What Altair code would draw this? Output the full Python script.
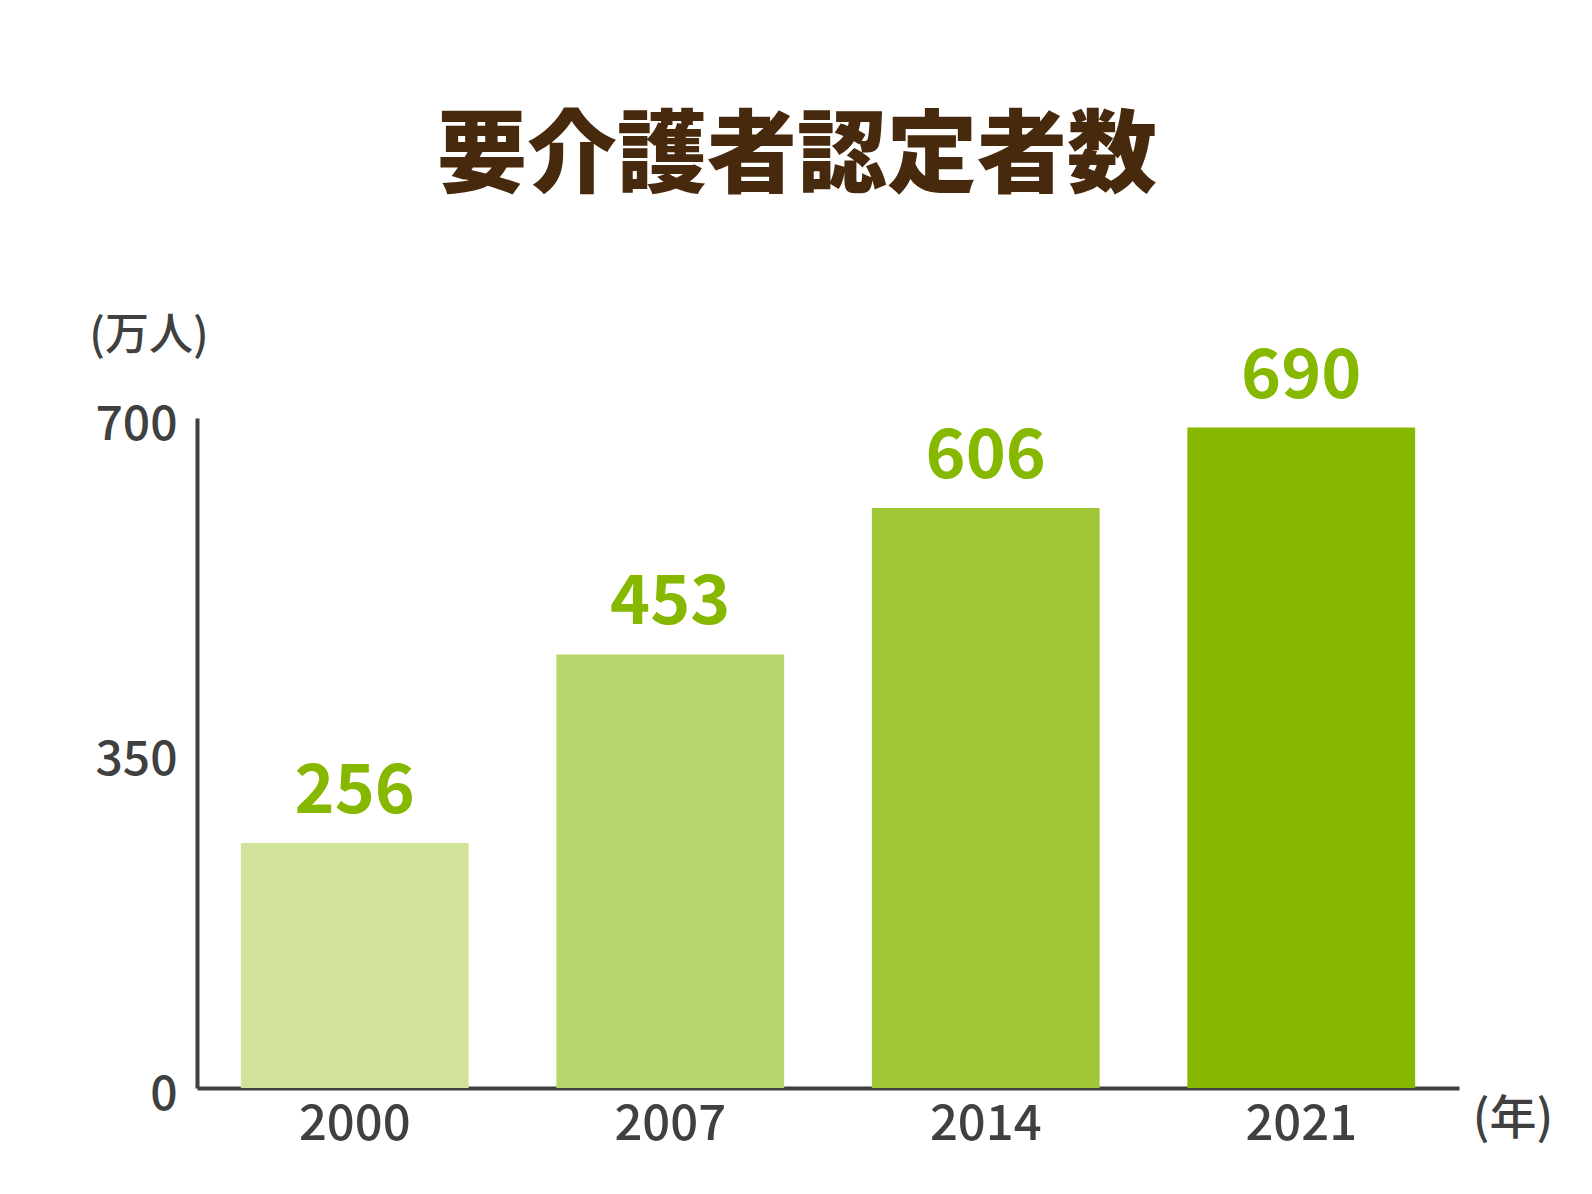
import altair as alt
import pandas as pd

years = ["2000", "2007", "2014", "2021"]
values = [256, 453, 606, 690]
bar_colors = ["#d1e39b", "#b8d66c", "#9ec635", "#86b800"]
y_ticks = [0, 350, 700]
title_text = "要介護者認定者数"
y_unit = "(万人)"
x_unit = "(年)"

FONT = "Noto Sans CJK JP"
W, H = 1262, 670

df = pd.DataFrame({"year": years, "value": values, "color": bar_colors})

x_enc = alt.X(
    "year:N",
    sort=years,
    scale=alt.Scale(paddingInner=0.278, paddingOuter=0.139),
    axis=alt.Axis(
        title=None, labelAngle=0, labelFontSize=49, labelColor="#404040",
        labelFont=FONT, labelFontWeight=500, domainColor="#404040",
        domainWidth=4, ticks=False, labelPadding=12,
    ),
)
y_enc = alt.Y(
    "value:Q",
    scale=alt.Scale(domain=[0, 700], nice=False),
    axis=alt.Axis(
        values=y_ticks, title=None, grid=False, ticks=False, labelPadding=20,
        labelFontSize=48, labelColor="#404040", labelFont=FONT,
        labelFontWeight=500, labelOffset=7,
        domainColor="#404040", domainWidth=4,
    ),
)

base = alt.Chart(df)
bars = base.mark_bar().encode(
    x=x_enc, y=y_enc, color=alt.Color("color:N", scale=None)
)
labels = base.mark_text(
    dy=-30, baseline="alphabetic", fontSize=68, fontWeight="bold",
    color="#86b800", font=FONT,
).encode(x=alt.X("year:N", sort=years), y=alt.Y("value:Q"), text="value:Q")

title = alt.Chart(pd.DataFrame({"t": [title_text]})).mark_text(
    fontSize=90, fontWeight=900, color="#47290d", font=FONT,
    align="center", baseline="middle",
).encode(x=alt.value(600), y=alt.value(-260), text="t:N")

yunit = alt.Chart(pd.DataFrame({"t": [y_unit]})).mark_text(
    fontSize=44, color="#404040", font=FONT, fontWeight=500,
    align="center", baseline="middle",
).encode(x=alt.value(-48), y=alt.value(-81), text="t:N")

xunit = alt.Chart(pd.DataFrame({"t": [x_unit]})).mark_text(
    fontSize=47, color="#404040", font=FONT, fontWeight=500,
    align="center", baseline="middle",
).encode(x=alt.value(1316), y=alt.value(702), text="t:N")

chart = alt.layer(bars, labels, title, yunit, xunit).properties(
    width=W, height=H,
    autosize=alt.AutoSizeParams(type="none"),
    padding={"left": 189, "top": 410, "right": 125, "bottom": 98},
).configure_view(stroke=None)

chart.save("out.html", embed_options={"renderer": "svg", "actions": False})
